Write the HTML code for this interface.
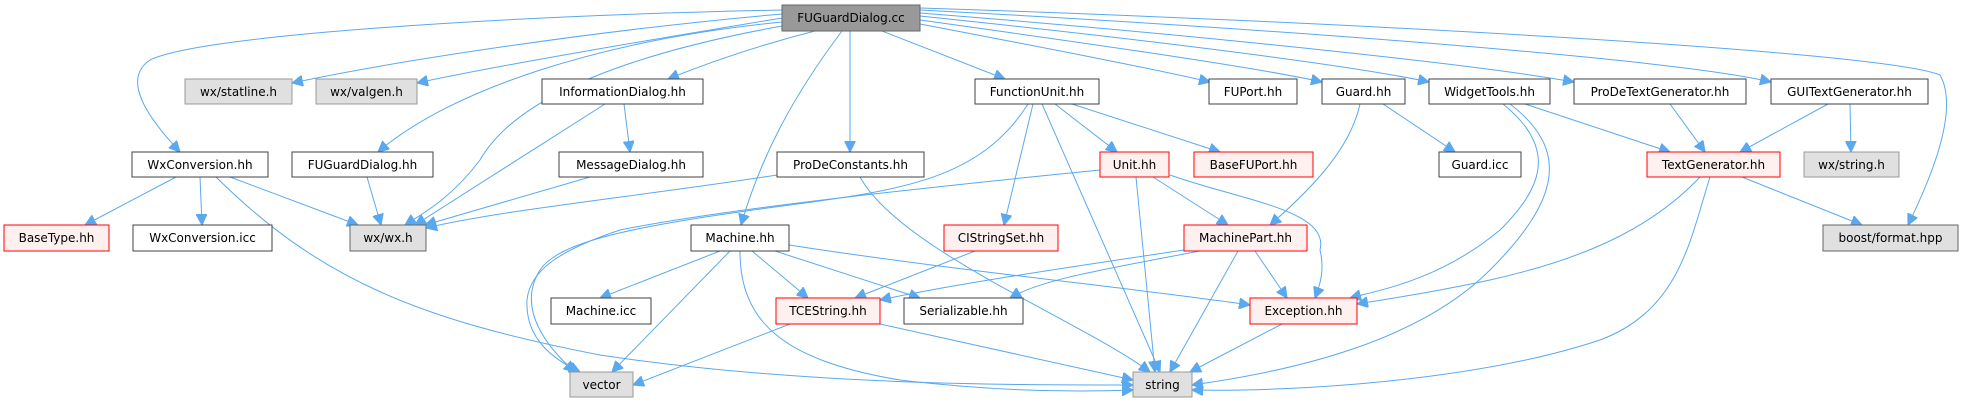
<!DOCTYPE html>
<html><head><meta charset="utf-8"><style>
html,body{margin:0;padding:0;background:#fff;width:1963px;height:403px;overflow:hidden}
svg text{font-family:"DejaVu Sans","Liberation Sans",sans-serif;font-size:12px;fill:#000}
.e{fill:none;stroke:#5aa9ee;stroke-width:1}
</style></head><body>
<svg width="1963" height="403" viewBox="0 0 1963 403" xmlns="http://www.w3.org/2000/svg">
<defs>
<marker id="a" viewBox="0 0 10 10" refX="10" refY="5" markerWidth="11" markerHeight="11" markerUnits="userSpaceOnUse" orient="auto">
<path d="M0,0 L10,5 L0,10 z" fill="#5aa9ee" stroke="#5aa9ee"/></marker>
</defs>
<g class="e" marker-end="url(#a)">
<path d="M782,14 C600,30 400,60 292,83"/>
<path d="M782,18 C650,40 500,65 417,83"/>
<path d="M782,10 C500,16 200,35 150,60 C120,80 150,120 180,152"/>
<path d="M782,22 C600,40 450,90 378,152"/>
<path d="M782,26 C650,50 520,90 480,160 C450,200 420,215 405,225"/>
<path d="M815,31 C760,45 710,62 668,79"/>
<path d="M842,31 C790,100 760,160 741,225"/>
<path d="M850,31 L850,152"/>
<path d="M882,31 L1005,79"/>
<path d="M920,24 C1030,45 1150,68 1210,82"/>
<path d="M920,20 C1100,45 1260,68 1322,82"/>
<path d="M920,16 C1150,40 1350,65 1429,82"/>
<path d="M920,13 C1200,35 1480,65 1574,82"/>
<path d="M920,10 C1300,30 1680,60 1771,82"/>
<path d="M920,8 C1300,20 1880,50 1940,75 C1960,110 1930,180 1908,225"/>
<path d="M624,104 L630,152"/>
<path d="M605,104 L415,225"/>
<path d="M176,177 L85,225"/>
<path d="M200,177 L202,225"/>
<path d="M230,177 L358,225"/>
<path d="M216,177 C320,280 420,320 600,355 C800,385 1000,385 1133,385"/>
<path d="M367,177 L381,225"/>
<path d="M590,177 L425,225"/>
<path d="M777,175 C650,195 500,210 426,228"/>
<path d="M860,177 C900,250 1080,320 1150,372"/>
<path d="M1055,104 L1117,152"/>
<path d="M1072,104 L1220,152"/>
<path d="M1033,104 L1004,225"/>
<path d="M1042,104 L1160,372"/>
<path d="M1028,104 C980,180 900,190 790,205 C640,225 560,240 540,270 C515,310 550,350 575,372"/>
<path d="M1100,170 C900,190 720,210 620,230 C560,250 530,270 527,300 C525,340 555,360 580,372"/>
<path d="M1153,177 L1228,225"/>
<path d="M1170,175 C1240,200 1330,210 1320,250 C1325,270 1320,285 1315,298"/>
<path d="M1136,177 L1155,372"/>
<path d="M1383,104 L1455,152"/>
<path d="M1360,104 C1350,150 1310,190 1270,225"/>
<path d="M1525,104 L1670,152"/>
<path d="M1503,104 C1560,150 1540,190 1500,230 C1440,280 1380,290 1350,298"/>
<path d="M1510,104 C1570,150 1560,200 1490,270 C1420,340 1300,370 1192,385"/>
<path d="M1670,104 L1705,152"/>
<path d="M1828,104 L1740,152"/>
<path d="M1850,104 L1851,152"/>
<path d="M1742,177 L1862,225"/>
<path d="M1700,177 C1650,230 1580,260 1490,280 C1420,295 1380,300 1357,304"/>
<path d="M1710,177 C1690,240 1680,310 1600,340 C1480,380 1300,392 1192,390"/>
<path d="M720,251 L600,298"/>
<path d="M752,251 L808,298"/>
<path d="M775,251 L920,298"/>
<path d="M789,245 C950,270 1150,290 1250,305"/>
<path d="M730,251 L612,372"/>
<path d="M740,251 C740,320 780,360 900,380 C1000,392 1080,392 1133,390"/>
<path d="M975,251 L855,298"/>
<path d="M1184,250 C1050,270 950,285 880,300"/>
<path d="M1200,251 C1100,270 1040,280 1010,298"/>
<path d="M1255,251 L1287,298"/>
<path d="M1238,251 L1170,372"/>
<path d="M790,324 L633,385"/>
<path d="M880,324 L1133,380"/>
<path d="M1282,324 L1190,372"/>
</g>
<g stroke-width="1">
<rect x="782" y="5" width="138" height="26" fill="#999" stroke="#666"/>
<text x="851" y="22" text-anchor="middle">FUGuardDialog.cc</text>
<rect x="185" y="79" width="107" height="25" fill="#e0e0e0" stroke="#999"/><text x="238.5" y="96" text-anchor="middle">wx/statline.h</text>
<rect x="316" y="79" width="101" height="25" fill="#e0e0e0" stroke="#999"/><text x="366.5" y="96" text-anchor="middle">wx/valgen.h</text>
<rect x="542" y="79" width="161" height="25" fill="#fff" stroke="#404040"/><text x="622.5" y="96" text-anchor="middle">InformationDialog.hh</text>
<rect x="975" y="79" width="124" height="25" fill="#fff" stroke="#404040"/><text x="1037" y="96" text-anchor="middle">FunctionUnit.hh</text>
<rect x="1209" y="79" width="88" height="25" fill="#fff" stroke="#404040"/><text x="1253" y="96" text-anchor="middle">FUPort.hh</text>
<rect x="1322" y="79" width="83" height="25" fill="#fff" stroke="#404040"/><text x="1363.5" y="96" text-anchor="middle">Guard.hh</text>
<rect x="1429" y="79" width="121" height="25" fill="#fff" stroke="#404040"/><text x="1489.5" y="96" text-anchor="middle">WidgetTools.hh</text>
<rect x="1574" y="79" width="172" height="25" fill="#fff" stroke="#404040"/><text x="1660" y="96" text-anchor="middle">ProDeTextGenerator.hh</text>
<rect x="1771" y="79" width="157" height="25" fill="#fff" stroke="#404040"/><text x="1849.5" y="96" text-anchor="middle">GUITextGenerator.hh</text>
<rect x="132" y="152" width="136" height="25" fill="#fff" stroke="#404040"/><text x="200" y="169" text-anchor="middle">WxConversion.hh</text>
<rect x="292" y="152" width="141" height="25" fill="#fff" stroke="#404040"/><text x="362.5" y="169" text-anchor="middle">FUGuardDialog.hh</text>
<rect x="559" y="152" width="144" height="25" fill="#fff" stroke="#404040"/><text x="631" y="169" text-anchor="middle">MessageDialog.hh</text>
<rect x="777" y="152" width="147" height="25" fill="#fff" stroke="#404040"/><text x="850.5" y="169" text-anchor="middle">ProDeConstants.hh</text>
<rect x="1100" y="152" width="69" height="25" fill="#fff0f0" stroke="#f00"/><text x="1134.5" y="169" text-anchor="middle">Unit.hh</text>
<rect x="1194" y="152" width="119" height="25" fill="#fff0f0" stroke="#f00"/><text x="1253.5" y="169" text-anchor="middle">BaseFUPort.hh</text>
<rect x="1439" y="152" width="82" height="25" fill="#fff" stroke="#404040"/><text x="1480" y="169" text-anchor="middle">Guard.icc</text>
<rect x="1647" y="152" width="133" height="25" fill="#fff0f0" stroke="#f00"/><text x="1713.5" y="169" text-anchor="middle">TextGenerator.hh</text>
<rect x="1804" y="152" width="95" height="25" fill="#e0e0e0" stroke="#999"/><text x="1851.5" y="169" text-anchor="middle">wx/string.h</text>
<rect x="4" y="225" width="105" height="26" fill="#fff0f0" stroke="#f00"/><text x="56.5" y="242" text-anchor="middle">BaseType.hh</text>
<rect x="133" y="225" width="139" height="26" fill="#fff" stroke="#404040"/><text x="202.5" y="242" text-anchor="middle">WxConversion.icc</text>
<rect x="350" y="225" width="76" height="26" fill="#e0e0e0" stroke="#666"/><text x="388" y="242" text-anchor="middle">wx/wx.h</text>
<rect x="691" y="225" width="98" height="26" fill="#fff" stroke="#404040"/><text x="740" y="242" text-anchor="middle">Machine.hh</text>
<rect x="944" y="225" width="114" height="26" fill="#fff0f0" stroke="#f00"/><text x="1001" y="242" text-anchor="middle">CIStringSet.hh</text>
<rect x="1184" y="225" width="123" height="26" fill="#fff0f0" stroke="#f00"/><text x="1245.5" y="242" text-anchor="middle">MachinePart.hh</text>
<rect x="1823" y="225" width="135" height="26" fill="#e0e0e0" stroke="#666"/><text x="1890.5" y="242" text-anchor="middle">boost/format.hpp</text>
<rect x="551" y="298" width="100" height="26" fill="#fff" stroke="#404040"/><text x="601" y="315" text-anchor="middle">Machine.icc</text>
<rect x="776" y="298" width="104" height="26" fill="#fff0f0" stroke="#f00"/><text x="828" y="315" text-anchor="middle">TCEString.hh</text>
<rect x="904" y="298" width="119" height="26" fill="#fff" stroke="#404040"/><text x="963.5" y="315" text-anchor="middle">Serializable.hh</text>
<rect x="1250" y="298" width="107" height="26" fill="#fff0f0" stroke="#f00"/><text x="1303.5" y="315" text-anchor="middle">Exception.hh</text>
<rect x="570" y="372" width="63" height="25" fill="#e0e0e0" stroke="#999"/><text x="601.5" y="389" text-anchor="middle">vector</text>
<rect x="1133" y="372" width="59" height="25" fill="#e0e0e0" stroke="#999"/><text x="1162.5" y="389" text-anchor="middle">string</text>
</g>
</svg>
</body></html>
